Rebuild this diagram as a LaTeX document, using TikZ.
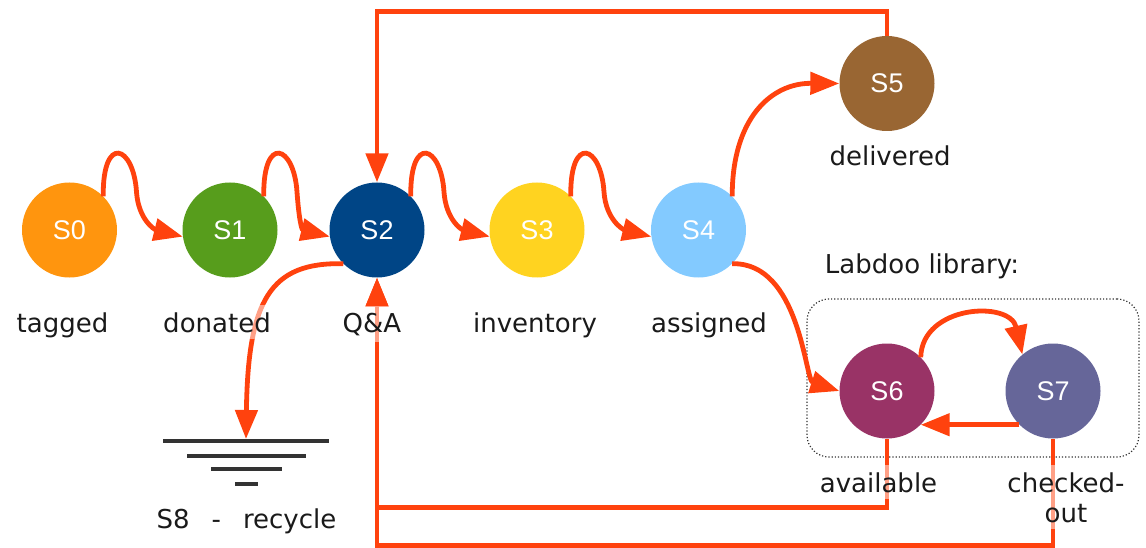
\documentclass[tikz,border=0pt]{standalone}
\usepackage{fontspec}
\setmainfont{DejaVu Sans}
\newfontfamily\statefont{Liberation Sans}
\usetikzlibrary{arrows.meta,calc}
\definecolor{arrowc}{HTML}{FF420E}
\definecolor{gndc}{HTML}{333333}
\definecolor{txtc}{HTML}{1A1A1A}
\definecolor{cS0}{HTML}{FF950E}
\definecolor{cS1}{HTML}{579D1C}
\definecolor{cS2}{HTML}{004586}
\definecolor{cS3}{HTML}{FFD320}
\definecolor{cS4}{HTML}{83CAFF}
\definecolor{cS5}{HTML}{996633}
\definecolor{cS6}{HTML}{993366}
\definecolor{cS7}{HTML}{666699}
\newcommand\wavearrow[2]{%
  \draw[arr] (#1.45) .. controls ($(#1)+(33,-96)$) and ($(#1)+(64,-85)$) .. ($(#1)+(67,-38)$)
    .. controls ($(#1)+(69,-10)$) and ($(#2.188)+(-28,-7)$) .. (#2.188);}
\begin{document}
\begin{tikzpicture}[x=1pt,y=-1pt,
  state/.style={circle,minimum size=95pt,inner sep=0pt,text=white,
    font=\statefont\fontsize{27}{30}\selectfont},
  arr/.style={draw=arrowc,line width=4.8pt,-{Triangle[length=29pt,width=22pt]}},
  lbl/.style={font=\fontsize{26}{30}\selectfont,text=txtc,fill=white,fill opacity=0.5,
    text opacity=1,inner xsep=4pt,inner ysep=7pt,anchor=base},
  gndline/.style={draw=gndc,line width=4.5pt},
  libbox/.style={draw=gndc,dotted,line width=1.2pt,rounded corners=22pt,
    minimum width=332pt,minimum height=158pt,inner sep=0pt}]
\useasboundingbox (0,0) rectangle (1146,548);

% library frame
\node[libbox] (lib) at (973,378) {};

% states
\node[state,fill=cS0] (S0) at (69.5,230) {S0};
\node[state,fill=cS1] (S1) at (230,230) {S1};
\node[state,fill=cS2] (S2) at (377,230) {S2};
\node[state,fill=cS3] (S3) at (537,230) {S3};
\node[state,fill=cS4] (S4) at (698.5,230) {S4};
\node[state,fill=cS5] (S5) at (887,83.5) {S5};
\node[state,fill=cS6] (S6) at (887,391) {S6};
\node[state,fill=cS7] (S7) at (1053,391) {S7};

% ground symbol
\coordinate (gnd) at (246,439);
\draw[gndline] (163,441) -- (329,441);
\draw[gndline] (187,456) -- (306,456);
\draw[gndline] (211,469) -- (282,469);
\draw[gndline] (235,484) -- (258,484);

% wavy forward arrows
\wavearrow{S0}{S1}
\wavearrow{S1}{S2}
\wavearrow{S2}{S3}
\wavearrow{S3}{S4}

% S4 -> S5, S4 -> S6
\draw[arr] (S4.45) .. controls (732,120) and (770,83) .. (S5.west);
\draw[arr] (S4.-45) .. controls (800,262) and (805,380) .. (S6.west);

% S5 back to S2 over the top
\draw[arr] (S5.north) -- ++(0,-24) -| (S2.north);

% S2 -> recycle
\draw[arr] (S2.-135) .. controls (270,262) and (248,300) .. (gnd);

% library loop
\draw[arr] (S6.45) .. controls (922,305) and (1010,300) .. (S7.130);
\draw[arr] (S7.-135) -- (S6.-45);

% back to S2 from the bottom
\draw[arr] (S7.south) -- ++(0,107) -| (S2.south);
\draw[arr] (S6.south) -- ++(0,69) -| (S2.south);

% labels
\node[lbl] (l0) at (62.5,332) {tagged};
\node[lbl] (l1) at (217,332) {donated};
\node[lbl] (l2) at (372,332) {Q\&A};
\node[lbl] (l3) at (535,332) {inventory};
\node[lbl] (l4) at (709,332) {assigned};
\node[lbl] (l5) at (890,166) {delivered};
\node[lbl,fill opacity=0] (llib) at (922,273) {Labdoo library:};
\node[lbl] (l6) at (878.5,492) {available};
\node[lbl,align=center] (l7) at (1066,522) {checked-\\out};
\node[lbl,fill opacity=0] (l8) at (246.5,528) {S8\hspace{22pt}-\hspace{22pt}recycle};
\end{tikzpicture}
\end{document}
